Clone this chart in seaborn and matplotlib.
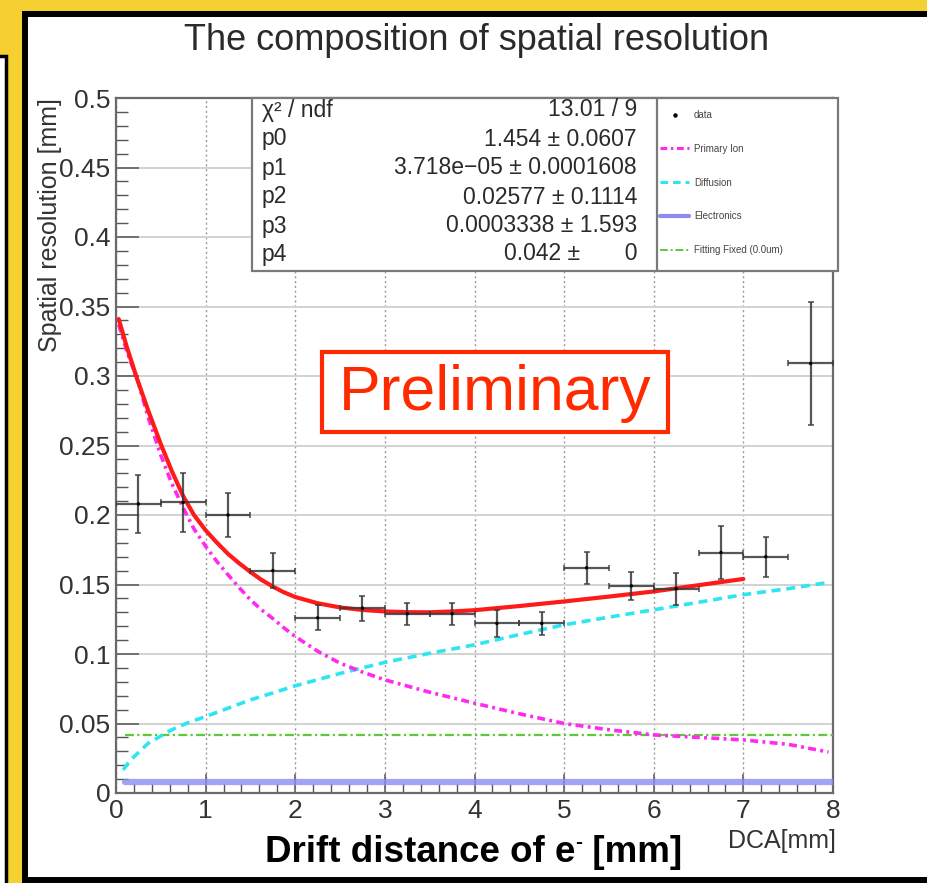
import numpy as np
import pandas as pd
import matplotlib
matplotlib.use("Agg")
import matplotlib.pyplot as plt
import matplotlib.ticker as mticker
from matplotlib.patches import Rectangle
from matplotlib.lines import Line2D
import seaborn as sns

# ---------------- data ----------------
dca_center = [0.25, 0.75, 1.25, 1.75, 2.25, 2.75, 3.25, 3.75,
              4.25, 4.75, 5.25, 5.75, 6.25, 6.75, 7.25, 7.75]
dca_halfwidth = [0.25] * 16
resolution = [0.208, 0.209, 0.200, 0.160, 0.126, 0.133, 0.129, 0.129,
              0.122, 0.122, 0.162, 0.149, 0.147, 0.173, 0.170, 0.309]
resolution_err = [0.021, 0.0215, 0.016, 0.0125, 0.009, 0.009, 0.008, 0.008,
                  0.0097, 0.008, 0.0115, 0.010, 0.0115, 0.019, 0.0145, 0.044]

fit_x = [0.03, 0.12, 0.23, 0.36, 0.5, 0.62, 0.75, 0.87, 1.0, 1.12, 1.25,
         1.37, 1.5, 1.62, 1.75, 1.87, 2.0, 2.25, 2.5, 2.75, 3.0, 3.25, 3.5,
         3.75, 4.0, 4.5, 5.0, 5.5, 6.0, 6.5, 7.0]
fit_y = [0.341, 0.321, 0.299, 0.275, 0.251, 0.232, 0.2135, 0.200, 0.189,
         0.1805, 0.172, 0.1655, 0.159, 0.1535, 0.1485, 0.1445, 0.141, 0.1365,
         0.1335, 0.1317, 0.1306, 0.1301, 0.1300, 0.1306, 0.1315, 0.1345,
         0.1378, 0.1413, 0.1450, 0.1495, 0.1540]

primary_x = [0.03, 0.12, 0.25, 0.36, 0.5, 0.62, 0.75, 0.87, 1.0, 1.12, 1.25,
             1.37, 1.5, 1.62, 1.75, 1.87, 2.0, 2.25, 2.5, 2.75, 3.0, 3.5,
             4.0, 4.5, 5.0, 5.5, 6.0, 6.5, 7.0, 7.5, 7.95]
primary_y = [0.337, 0.318, 0.295, 0.270, 0.243, 0.223, 0.205, 0.190, 0.1775,
             0.167, 0.157, 0.148, 0.139, 0.132, 0.1255, 0.119, 0.1126, 0.102,
             0.0934, 0.087, 0.0814, 0.0725, 0.0646, 0.057, 0.050, 0.0455,
             0.0418, 0.040, 0.0382, 0.035, 0.0295]

diffusion_x = [0.08, 0.14, 0.2, 0.28, 0.36, 0.5, 0.62, 0.8, 1.0, 1.25, 1.5,
               1.75, 2.0, 2.5, 3.0, 3.5, 4.0, 4.5, 5.0, 5.5, 6.0, 6.5, 7.0,
               7.5, 7.95]
diffusion_y = [0.0166, 0.022, 0.026, 0.031, 0.0358, 0.041, 0.0454, 0.0505,
               0.055, 0.061, 0.067, 0.072, 0.0771, 0.086, 0.0940, 0.1005,
               0.1066, 0.114, 0.121, 0.1265, 0.1318, 0.1372, 0.1427, 0.147,
               0.1515]

electronics_x = [0.1, 8.0]
electronics_y = [0.008, 0.008]
fixed_x = [0.1, 8.0]
fixed_y = [0.042, 0.042]

x_ticks = [0, 1, 2, 3, 4, 5, 6, 7, 8]
x_tick_labels = ["0", "1", "2", "3", "4", "5", "6", "7", "8"]
y_ticks = [0, 0.05, 0.1, 0.15, 0.2, 0.25, 0.3, 0.35, 0.4, 0.45, 0.5]
y_tick_labels = ["0", "0.05", "0.1", "0.15", "0.2", "0.25", "0.3", "0.35",
                 "0.4", "0.45", "0.5"]

legend_labels = ["data", "Primary Ion", "Diffusion", "Electronics",
                 "Fitting Fixed (0.0um)"]
stat_names = ["χ² / ndf", "p0", "p1", "p2", "p3", "p4"]
stat_values = ["13.01 / 9", "1.454 ± 0.0607", "3.718e−05 ± 0.0001608",
               "0.02577 ± 0.1114", "0.0003338 ± 1.593", "0.042 ±       0"]

# ---------------- style ----------------
sns.set_theme(style="white")
plt.rcParams["font.family"] = ["Liberation Sans", "DejaVu Sans"]

W, H = 927, 883
def fx(px):
    return px / W
def fy(py):
    return 1 - py / H

fig = plt.figure(figsize=(W / 100, H / 100), dpi=100)
fig.patch.set_facecolor("#F4D030")

# slide framing
fig.patches.append(Rectangle((fx(-10), fy(905)), fx(16), (905 - 56) / H,
                             transform=fig.transFigure, facecolor="white",
                             edgecolor="black", lw=2.5, zorder=-2))
fig.patches.append(Rectangle((fx(25), fy(880)), fx(940 - 25), (880 - 14) / H,
                             transform=fig.transFigure, facecolor="white",
                             edgecolor="black", lw=4.3, zorder=-1))

ax = fig.add_axes([fx(116), fy(793), (833 - 116) / W, (793 - 98) / H])
ax.set_facecolor("white")

# curves
sns.lineplot(x=fixed_x, y=fixed_y, ax=ax, color="#5CC83A", lw=1.6,
             linestyle=(0, (4, 1.5, 1, 1.5)), zorder=3)
sns.lineplot(x=electronics_x, y=electronics_y, ax=ax, color="#8C8CF0",
             lw=4.5, alpha=0.8, zorder=3)
sns.lineplot(x=diffusion_x, y=diffusion_y, ax=ax, color="#2EE6F2", lw=2.6,
             linestyle=(0, (2.5, 1.6)), zorder=3, sort=False)
sns.lineplot(x=primary_x, y=primary_y, ax=ax, color="#FF2AF0", lw=2.6,
             linestyle=(0, (2.2, 1.2, 0.8, 1.2)), zorder=3, sort=False)
sns.lineplot(x=fit_x, y=fit_y, ax=ax, color="#FF1A1A", lw=3.0, zorder=4,
             sort=False)

# data points
ax.errorbar(dca_center, resolution, xerr=dca_halfwidth, yerr=resolution_err,
            fmt="none", ecolor="#3a3a3a", elinewidth=1.6, capsize=2.2,
            capthick=1.2, alpha=0.85, zorder=5)
sns.scatterplot(x=dca_center, y=resolution, ax=ax, color="black", s=6,
                edgecolor="none", zorder=6)

# axes
ax.set_xlim(0, 8)
ax.set_ylim(0, 0.5)
ax.set_xticks(x_ticks)
ax.set_xticklabels(x_tick_labels)
ax.set_yticks(y_ticks)
ax.set_yticklabels(y_tick_labels)
ax.xaxis.set_minor_locator(mticker.MultipleLocator(0.2))
ax.yaxis.set_minor_locator(mticker.MultipleLocator(0.01))
ax.tick_params(axis="both", which="both", direction="in", colors="#555555",
               labelcolor="#333333", top=False, right=False,
               left=True, bottom=True)
ax.tick_params(axis="y", which="major", length=16.5, width=1.1,
               labelsize=19, pad=4)
ax.tick_params(axis="y", which="minor", length=8.5, width=1.0)
ax.tick_params(axis="x", which="major", length=13.5, width=1.1,
               labelsize=19, pad=4)
ax.tick_params(axis="x", which="minor", length=6.5, width=1.0)

ax.yaxis.grid(True, color="#d2d2d2", lw=1.4, ls="-")
ax.xaxis.grid(True, color="#9a9a9a", lw=1.0, ls=(0, (1.5, 2.0)))
ax.set_axisbelow(True)
for sp in ax.spines.values():
    sp.set_color("#6a6a6a")
    sp.set_linewidth(1.6)

ax.set_ylabel("Spatial resolution [mm]", fontsize=18, color="#333333",
              loc="top")
ax.yaxis.set_label_coords(-0.076, 1.0)
ax.set_xlabel("DCA[mm]", fontsize=18, color="#333333", loc="right")
ax.xaxis.set_label_coords(1.004, -0.052)

# title
fig.text(fx(477), fy(40), "The composition of spatial resolution",
         ha="center", va="center", fontsize=26, color="#2a2a2a")

# stats box + legend box
box_top, box_bot = 98, 271
fig.patches.append(Rectangle((fx(252), fy(box_bot)), fx(838 - 252),
                             (box_bot - box_top) / H,
                             transform=fig.transFigure, facecolor="white",
                             edgecolor="#7a7a7a", lw=1.6, zorder=5))
fig.lines.append(Line2D([fx(657), fx(657)], [fy(box_top), fy(box_bot)],
                        transform=fig.transFigure, color="#7a7a7a", lw=1.6,
                        zorder=6))
row_y = [110, 139, 168, 197, 226, 254]
for name, val, ry in zip(stat_names, stat_values, row_y):
    fig.text(fx(262), fy(ry), name, ha="left", va="center", fontsize=16.5,
             color="#2a2a2a", zorder=7)
    fig.text(fx(637), fy(ry), val, ha="right", va="center", fontsize=16.5,
             color="#2a2a2a", zorder=7)

handles = [
    Line2D([], [], marker="o", ms=2.2, color="black", ls="none"),
    Line2D([], [], color="#FF2AF0", lw=2.2, ls=(0, (2.2, 1.2, 0.8, 1.2))),
    Line2D([], [], color="#2EE6F2", lw=2.2, ls=(0, (2.5, 1.6))),
    Line2D([], [], color="#8C8CF0", lw=3.0),
    Line2D([], [], color="#5CC83A", lw=1.4, ls=(0, (4, 1.5, 1, 1.5))),
]
leg = fig.legend(handles, legend_labels, loc="upper left",
                 bbox_to_anchor=(fx(660), fy(110)), frameon=False,
                 fontsize=7, handlelength=3.0, handletextpad=0.5,
                 labelspacing=2.45, borderaxespad=0, borderpad=0,
                 numpoints=1)
leg.set_zorder(8)
for t in leg.get_texts():
    t.set_color("#444444")

# bottom annotation: "Drift distance of e⁻ [mm]" with a small superscript
t1 = fig.text(fx(265), fy(853), "Drift distance of e", ha="left",
              va="center", fontsize=26.5, fontweight="bold", color="black")
t2 = plt.annotate("-", xy=(1.0, 0.80), xycoords=t1, ha="left", va="center",
                  fontsize=15, fontweight="bold", color="black",
                  annotation_clip=False)
t3 = plt.annotate(" [mm]", xy=(1.0, 0.5), xycoords=(t2, t1), ha="left",
                  va="center", fontsize=26.5, fontweight="bold",
                  color="black", annotation_clip=False)

# Preliminary stamp
fig.patches.append(Rectangle((fx(322), fy(432)), fx(668 - 322),
                             (432 - 352) / H, transform=fig.transFigure,
                             facecolor="white", edgecolor="#FF2A00", lw=3.0,
                             zorder=9))
fig.text(fx(495), fy(393), "Preliminary", ha="center", va="center",
         fontsize=45, color="#FF2A00", zorder=10)

fig.savefig("out.png", dpi=100, facecolor=fig.get_facecolor())
